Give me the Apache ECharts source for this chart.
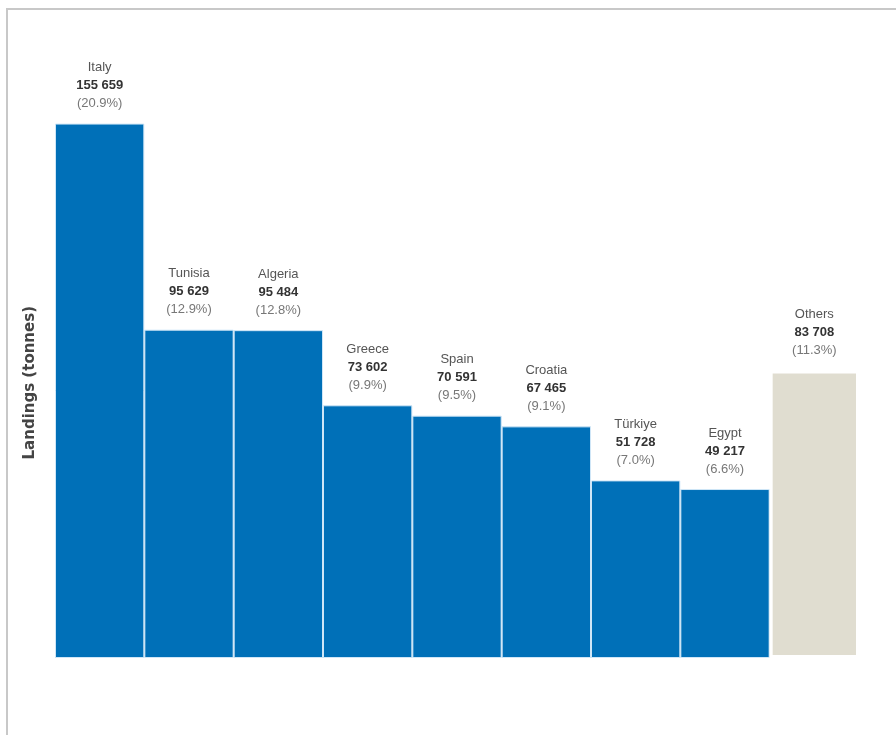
<!DOCTYPE html>
<html>
<head>
<meta charset="utf-8">
<script src="https://cdn.jsdelivr.net/npm/echarts@6/dist/echarts.min.js"></script>
<style>
  html, body { margin: 0; padding: 0; background: #fff; }
  #frame { position: absolute; left: 6px; top: 8px; width: 890px; height: 727px;
           border-top: 2px solid #c8c8c8; border-left: 2px solid #c8c8c8; box-sizing: border-box; }
  #chart { position: absolute; left: 0; top: 0; width: 896px; height: 735px; }
</style>
</head>
<body>
<div id="frame"></div>
<div id="chart"></div>
<script>
// landings by country
const countries = ['Italy', 'Tunisia', 'Algeria', 'Greece', 'Spain', 'Croatia', 'Türkiye', 'Egypt', 'Others']
const landings = [155659, 95629, 95484, 73602, 70591, 67465, 51728, 49217, 83708]
const shares = ['20.9%', '12.9%', '12.8%', '9.9%', '9.5%', '9.1%', '7.0%', '6.6%', '11.3%']

const blue = '#0070b8'
const grey = '#e0ddd0'
const labelFont = '"Liberation Sans", Arial, sans-serif'

function fmt(v) {
    return String(v).replace(/\B(?=(\d{3})+(?!\d))/g, ' ')
}

let barData = landings.map((v, i) => {
    let isOther = countries[i] === 'Others'
    return {
        value: v,
        itemStyle: isOther
            ? { color: grey, borderColor: '#fff', borderWidth: 3 }
            : { color: blue, borderColor: '#cfe6f7', borderWidth: 1 }
    }
})

let option = {
    animation: false,
    grid: { left: 55, right: 37, top: 40, bottom: 77 },
    xAxis: {
        type: 'category',
        data: countries,
        axisLine: { show: false },
        axisTick: { show: false },
        axisLabel: { show: false }
    },
    yAxis: {
        type: 'value',
        min: 0,
        max: 180000,
        axisLine: { show: false },
        axisTick: { show: false },
        axisLabel: { show: false },
        splitLine: { show: false }
    },
    graphic: [{
        type: 'text',
        left: 23,
        top: 306,
        rotation: Math.PI / 2,
        style: {
            text: 'Landings (tonnes)',
            font: 'bold 15px "DejaVu Sans", sans-serif',
            fill: '#444'
        }
    }],
    series: [{
        type: 'bar',
        barCategoryGap: 0,
        data: barData,
        label: {
            show: true,
            position: 'top',
            distance: 11,
            formatter: p => '{n|' + countries[p.dataIndex] + '}\n{v|' + fmt(p.value) + '}\n{p|(' + shares[p.dataIndex] + ')}',
            rich: {
                n: { fontFamily: labelFont, fontSize: 13, color: '#555', lineHeight: 18, align: 'center' },
                v: { fontFamily: labelFont, fontSize: 13, fontWeight: 'bold', color: '#333', lineHeight: 18, align: 'center' },
                p: { fontFamily: labelFont, fontSize: 13, color: '#777', lineHeight: 18, align: 'center' }
            }
        }
    }]
}

let chart = echarts.init(document.getElementById('chart'))
chart.setOption(option)
</script>
</body>
</html>
